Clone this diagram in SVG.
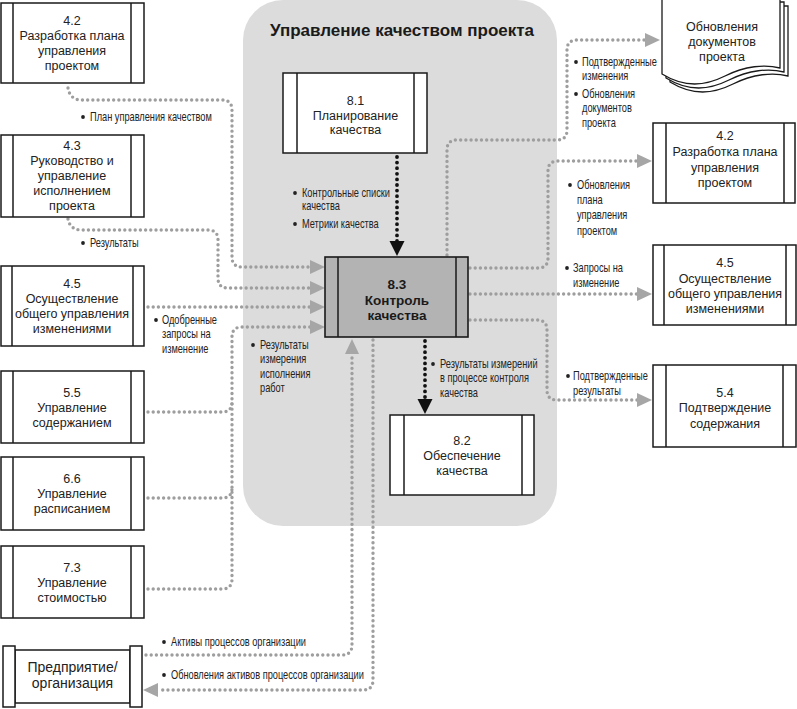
<svg xmlns="http://www.w3.org/2000/svg" width="797" height="709" viewBox="0 0 797 709">
<style>
.bx{fill:#fff;stroke:#1a1a1a;stroke-width:1.5}
.bx83{fill:#b3b3b3;stroke:#1a1a1a;stroke-width:1.6}
.br{stroke:#1a1a1a;stroke-width:1.5}
.t{font-family:"Liberation Sans",Arial,sans-serif;font-size:12.5px;text-anchor:middle;fill:#222}
.tb{font-family:"Liberation Sans",Arial,sans-serif;font-size:13.5px;font-weight:bold;text-anchor:middle;fill:#1a1a1a}
.ttl{font-family:"Liberation Sans",Arial,sans-serif;font-size:17px;font-weight:bold;text-anchor:middle;fill:#1a1a1a}
.lbl{font-family:"Liberation Sans",Arial,sans-serif;font-size:12px;fill:#222}
.c{fill:none;stroke:#9e9e9e;stroke-width:3.4;stroke-dasharray:0 5.2;stroke-linecap:round}
.cb{fill:none;stroke:#111;stroke-width:3.8;stroke-dasharray:0 5.6;stroke-linecap:round}
.dot{fill:#222}
.pg{fill:#fff;stroke:#1a1a1a;stroke-width:1.3}
</style>
<defs>
<marker id="ag" markerUnits="userSpaceOnUse" markerWidth="16" markerHeight="16" refX="0" refY="7" orient="auto"><path d="M0,0L15,7L0,14z" fill="#a6a6a6"/></marker>
<marker id="ab" markerUnits="userSpaceOnUse" markerWidth="16" markerHeight="16" refX="0" refY="7.5" orient="auto"><path d="M0,0L15,7.5L0,15z" fill="#111"/></marker>
</defs>

<rect x="243" y="0" width="314" height="526" rx="40" fill="#dcdcdc"/>
<text class="ttl" x="402" y="36">Управление качеством проекта</text>

<g id="connectors">
<path class="c" d="M68,88 Q70,100 82,100 L222,100 Q232,100 232,110 L232,257 Q232,267 242,267 L310,267" marker-end="url(#ag)"/>
<path class="c" d="M68,219 Q70,230 82,230 L208,230 Q218,230 218,240 L218,278 Q218,288 228,288 L310,288" marker-end="url(#ag)"/>
<path class="c" d="M148,307 L310,307" marker-end="url(#ag)"/>
<path class="c" d="M148,589 L222,589 Q232,589 232,579 L232,337 Q232,327 242,327 L310,327" marker-end="url(#ag)"/>
<path class="c" d="M148,412 L222,412 Q232,412 232,402"/>
<path class="c" d="M148,498 L222,498 Q232,498 232,488"/>
<path class="c" d="M146,655 L342,655 Q352,655 352,645 L352,354" marker-end="url(#ag)"/>
<path class="c" d="M373,340 L373,680 Q373,690 363,690 L158,690" marker-end="url(#ag)"/>
<path class="c" d="M447,255 L447,150 Q447,140 457,140 L557,140 Q567,140 567,130 L567,50 Q567,40 577,40 L645,40" marker-end="url(#ag)"/>
<path class="c" d="M470,268 L538,268 Q548,268 548,258 L548,171 Q548,161 558,161 L637,161" marker-end="url(#ag)"/>
<path class="c" d="M470,294 L637,294" marker-end="url(#ag)"/>
<path class="c" d="M470,320 L537,320 Q547,320 547,330 L547,390 Q547,400 557,400 L637,400" marker-end="url(#ag)"/>
<path class="cb" d="M397,157 L397,241" marker-end="url(#ab)"/>
<path class="cb" d="M425,341 L425,399" marker-end="url(#ab)"/>
</g>

<g id="labels">
<circle class="dot" cx="83" cy="117" r="1.9"/>
<g transform="translate(90,121) scale(0.77,1)"><text class="lbl">План управления качеством</text></g>
<circle class="dot" cx="83" cy="243" r="1.9"/>
<g transform="translate(90,247) scale(0.77,1)"><text class="lbl">Результаты</text></g>
<circle class="dot" cx="156" cy="320" r="1.9"/>
<g transform="translate(162,324) scale(0.77,1)"><text class="lbl"><tspan x="0" y="0">Одобренные</tspan><tspan x="0" y="14.5">запросы на</tspan><tspan x="0" y="29">изменение</tspan></text></g>
<circle class="dot" cx="253" cy="345" r="1.9"/>
<g transform="translate(260,349) scale(0.77,1)"><text class="lbl"><tspan x="0" y="0">Результаты</tspan><tspan x="0" y="14.5">измерения</tspan><tspan x="0" y="29">исполнения</tspan><tspan x="0" y="43.5">работ</tspan></text></g>
<circle class="dot" cx="295" cy="193" r="1.9"/>
<g transform="translate(302,197) scale(0.77,1)"><text class="lbl"><tspan x="0" y="0">Контрольные списки</tspan><tspan x="0" y="13.5">качества</tspan></text></g>
<circle class="dot" cx="295" cy="224" r="1.9"/>
<g transform="translate(302,228) scale(0.77,1)"><text class="lbl">Метрики качества</text></g>
<circle class="dot" cx="433" cy="364" r="1.9"/>
<g transform="translate(440,368) scale(0.77,1)"><text class="lbl"><tspan x="0" y="0">Результаты измерений</tspan><tspan x="0" y="14.5">в процессе контроля</tspan><tspan x="0" y="29">качества</tspan></text></g>
<circle class="dot" cx="576" cy="62" r="1.9"/>
<g transform="translate(582,66) scale(0.77,1)"><text class="lbl"><tspan x="0" y="0">Подтвержденные</tspan><tspan x="0" y="14.5">изменения</tspan></text></g>
<circle class="dot" cx="576" cy="94" r="1.9"/>
<g transform="translate(582,98) scale(0.77,1)"><text class="lbl"><tspan x="0" y="0">Обновления</tspan><tspan x="0" y="14.5">документов</tspan><tspan x="0" y="29">проекта</tspan></text></g>
<circle class="dot" cx="570" cy="185" r="1.9"/>
<g transform="translate(577,189) scale(0.77,1)"><text class="lbl"><tspan x="0" y="0">Обновления</tspan><tspan x="0" y="15">плана</tspan><tspan x="0" y="30.5">управления</tspan><tspan x="0" y="46">проектом</tspan></text></g>
<circle class="dot" cx="567" cy="268" r="1.9"/>
<g transform="translate(573,272) scale(0.77,1)"><text class="lbl"><tspan x="0" y="0">Запросы на</tspan><tspan x="0" y="15">изменение</tspan></text></g>
<circle class="dot" cx="568" cy="376" r="1.9"/>
<g transform="translate(573,380) scale(0.77,1)"><text class="lbl"><tspan x="0" y="0">Подтвержденные</tspan><tspan x="0" y="15">результаты</tspan></text></g>
<circle class="dot" cx="164" cy="642" r="1.9"/>
<g transform="translate(171,646) scale(0.77,1)"><text class="lbl">Активы процессов организации</text></g>
<circle class="dot" cx="164" cy="675" r="1.9"/>
<g transform="translate(171,679) scale(0.77,1)"><text class="lbl">Обновления активов процессов организации</text></g>
</g>

<g id="n42L">
<rect class="bx" x="1" y="3" width="143" height="80"/>
<line class="br" x1="13" y1="3" x2="13" y2="83"/><line class="br" x1="131" y1="3" x2="131" y2="83"/>
<text class="t"><tspan x="72" y="25">4.2</tspan><tspan x="72" y="40">Разработка плана</tspan><tspan x="72" y="55">управления</tspan><tspan x="72" y="70">проектом</tspan></text>
</g>
<g id="n43L">
<rect class="bx" x="1" y="135" width="143" height="82"/>
<line class="br" x1="13" y1="135" x2="13" y2="217"/><line class="br" x1="131" y1="135" x2="131" y2="217"/>
<text class="t"><tspan x="72" y="150">4.3</tspan><tspan x="72" y="165">Руководство и</tspan><tspan x="72" y="180">управление</tspan><tspan x="72" y="195">исполнением</tspan><tspan x="72" y="210">проекта</tspan></text>
</g>
<g id="n45L">
<rect class="bx" x="1" y="266" width="143" height="80"/>
<line class="br" x1="12" y1="266" x2="12" y2="346"/><line class="br" x1="133" y1="266" x2="133" y2="346"/>
<text class="t"><tspan x="72" y="288">4.5</tspan><tspan x="72" y="303">Осуществление</tspan><tspan x="72" y="318">общего управления</tspan><tspan x="72" y="333">изменениями</tspan></text>
</g>
<g id="n55L">
<rect class="bx" x="1" y="371" width="143" height="72"/>
<line class="br" x1="13" y1="371" x2="13" y2="443"/><line class="br" x1="131" y1="371" x2="131" y2="443"/>
<text class="t"><tspan x="72" y="397">5.5</tspan><tspan x="72" y="412">Управление</tspan><tspan x="72" y="427">содержанием</tspan></text>
</g>
<g id="n66L">
<rect class="bx" x="1" y="457" width="143" height="73"/>
<line class="br" x1="13" y1="457" x2="13" y2="530"/><line class="br" x1="131" y1="457" x2="131" y2="530"/>
<text class="t"><tspan x="72" y="483">6.6</tspan><tspan x="72" y="498">Управление</tspan><tspan x="72" y="513">расписанием</tspan></text>
</g>
<g id="n73L">
<rect class="bx" x="1" y="546" width="143" height="72"/>
<line class="br" x1="13" y1="546" x2="13" y2="618"/><line class="br" x1="131" y1="546" x2="131" y2="618"/>
<text class="t"><tspan x="72" y="572">7.3</tspan><tspan x="72" y="587">Управление</tspan><tspan x="72" y="602">стоимостью</tspan></text>
</g>
<g id="nEnt">
<rect class="bx" x="15" y="650" width="115" height="53"/>
<rect class="bx" x="3" y="646" width="12" height="61"/>
<rect class="bx" x="130" y="646" width="12" height="61"/>
<text class="t" style="font-size:14px"><tspan x="72.5" y="672">Предприятие/</tspan><tspan x="72.5" y="688">организация</tspan></text>
</g>

<g id="n81">
<rect class="bx" x="283" y="73" width="144" height="80"/>
<line class="br" x1="297" y1="73" x2="297" y2="153"/><line class="br" x1="414" y1="73" x2="414" y2="153"/>
<text class="t"><tspan x="355.5" y="105">8.1</tspan><tspan x="355.5" y="120">Планирование</tspan><tspan x="355.5" y="134">качества</tspan></text>
</g>
<g id="n83">
<rect class="bx83" x="325" y="257" width="143" height="80"/>
<line class="br" x1="338" y1="257" x2="338" y2="337"/><line class="br" x1="456" y1="257" x2="456" y2="337"/>
<text class="tb"><tspan x="397" y="289">8.3</tspan><tspan x="397" y="305">Контроль</tspan><tspan x="397" y="320">качества</tspan></text>
</g>
<g id="n82">
<rect class="bx" x="390" y="415" width="144" height="80"/>
<line class="br" x1="404" y1="415" x2="404" y2="495"/><line class="br" x1="522" y1="415" x2="522" y2="495"/>
<text class="t"><tspan x="462" y="445">8.2</tspan><tspan x="462" y="460">Обеспечение</tspan><tspan x="462" y="475">качества</tspan></text>
</g>

<g id="nDocs">
<path class="pg" transform="translate(8,8)" d="M662,-2 L780,-2 L780,68 C765,64 745,66 725,76 C705,86 685,88 662,74 Z"/>
<path class="pg" transform="translate(4,4)" d="M662,-2 L780,-2 L780,68 C765,64 745,66 725,76 C705,86 685,88 662,74 Z"/>
<path class="pg" d="M662,-2 L780,-2 L780,68 C765,64 745,66 725,76 C705,86 685,88 662,74 Z"/>
<text class="t"><tspan x="722" y="31">Обновления</tspan><tspan x="722" y="46">документов</tspan><tspan x="722" y="61">проекта</tspan></text>
</g>
<g id="n42R">
<rect class="bx" x="653" y="123" width="142" height="80"/>
<line class="br" x1="666" y1="123" x2="666" y2="203"/><line class="br" x1="784" y1="123" x2="784" y2="203"/>
<text class="t"><tspan x="725" y="140">4.2</tspan><tspan x="725" y="156">Разработка плана</tspan><tspan x="725" y="171.5">управления</tspan><tspan x="725" y="187">проектом</tspan></text>
</g>
<g id="n45R">
<rect class="bx" x="653" y="245" width="143" height="80"/>
<line class="br" x1="664" y1="245" x2="664" y2="325"/><line class="br" x1="786" y1="245" x2="786" y2="325"/>
<text class="t"><tspan x="725" y="267">4.5</tspan><tspan x="725" y="283">Осуществление</tspan><tspan x="725" y="298">общего управления</tspan><tspan x="725" y="313">изменениями</tspan></text>
</g>
<g id="n54R">
<rect class="bx" x="653" y="365" width="143" height="82"/>
<line class="br" x1="666" y1="365" x2="666" y2="447"/><line class="br" x1="783" y1="365" x2="783" y2="447"/>
<text class="t"><tspan x="725" y="397">5.4</tspan><tspan x="725" y="412">Подтверждение</tspan><tspan x="725" y="428">содержания</tspan></text>
</g>
</svg>
